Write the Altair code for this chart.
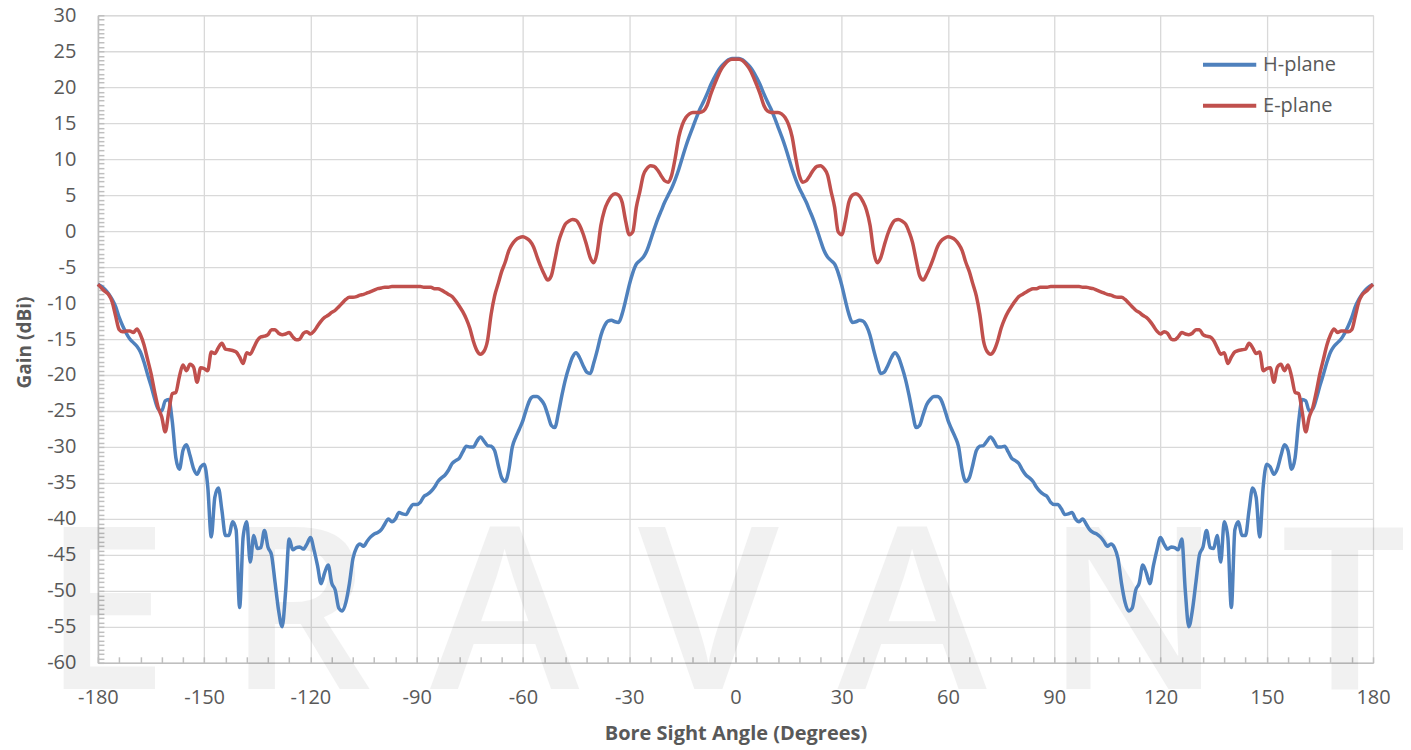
import altair as alt
import pandas as pd

ANGLES = list(range(-180, 181))

H_LEFT = [
    -7.4, -7.7, -8.1, -8.7, -9.5, -10.5, -12.0, -13.2, -14.2, -15.0,
    -15.5, -16.0, -16.8, -18.2, -19.9, -21.5, -23.3, -24.7, -25.0, -23.6,
    -23.4, -26.5, -31.5, -33.1, -30.5, -29.7, -31.2, -33.0, -33.8, -32.8,
    -32.4, -35.5, -42.5, -37.0, -35.7, -38.8, -42.3, -42.3, -40.4, -41.5,
    -52.3, -42.5, -40.4, -46.0, -42.3, -44.1, -44.0, -41.6, -43.9, -45.0,
    -48.8, -52.7, -55.0, -50.0, -42.8, -44.3, -44.0, -43.9, -44.2, -43.5,
    -42.6, -44.3, -46.5, -49.0, -47.5, -46.4, -48.9, -49.9, -52.4, -52.8,
    -51.6, -49.0, -45.5, -44.0, -43.5, -43.8, -43.1, -42.5, -42.1, -41.9,
    -41.5, -40.7, -40.0, -40.4, -40.0, -39.1, -39.3, -39.4, -38.6, -38.0,
    -38.0, -37.7, -36.9, -36.6, -36.2, -35.6, -34.8, -34.3, -33.9, -33.2,
    -32.3, -31.9, -31.6, -30.7, -29.9, -30.0, -30.0, -29.2, -28.6, -29.2,
    -29.8, -29.9, -30.5, -32.5, -34.3, -34.8, -33.2, -30.0, -28.6, -27.5,
    -26.3, -24.7, -23.4, -23.0, -23.0, -23.4, -24.1, -25.5, -27.0, -27.3,
    -25.3, -22.8, -20.6, -18.9, -17.5, -16.9, -17.6, -18.7, -19.6, -19.8,
    -18.3, -16.5, -14.5, -13.2, -12.5, -12.4, -12.6, -12.7, -11.5, -9.6,
    -7.5, -5.8, -4.6, -4.1, -3.6, -2.7, -1.3, 0.2, 1.6, 2.8,
    4.0, 5.0, 6.0, 7.2, 8.6, 10.2, 11.8, 13.2, 14.5, 15.8,
    17.0, 18.0, 19.1, 20.3, 21.3, 22.2, 22.9, 23.4, 23.8, 24.0,
    24.0,
]
H_RIGHT = [
    24.0, 23.8, 23.4, 22.9, 22.2, 21.3, 20.3, 19.1, 18.0, 17.0,
    15.8, 14.5, 13.2, 11.8, 10.2, 8.6, 7.2, 6.0, 5.0, 4.0,
    2.8, 1.6, 0.2, -1.3, -2.7, -3.6, -4.1, -4.6, -5.8, -7.5,
    -9.6, -11.5, -12.7, -12.6, -12.4, -12.5, -13.2, -14.5, -16.5, -18.3,
    -19.8, -19.6, -18.7, -17.6, -16.9, -17.5, -18.9, -20.6, -22.8, -25.3,
    -27.3, -27.0, -25.5, -24.1, -23.4, -23.0, -23.0, -23.4, -24.7, -26.3,
    -27.5, -28.6, -30.0, -33.2, -34.8, -34.3, -32.5, -30.5, -29.9, -29.8,
    -29.2, -28.6, -29.2, -30.0, -30.0, -29.9, -30.7, -31.6, -31.9, -32.3,
    -33.2, -33.9, -34.3, -34.8, -35.6, -36.2, -36.6, -36.9, -37.7, -38.0,
    -38.0, -38.6, -39.4, -39.3, -39.1, -40.0, -40.4, -40.0, -40.7, -41.5,
    -41.9, -42.1, -42.5, -43.1, -43.8, -43.5, -44.0, -45.5, -49.0, -51.6,
    -52.8, -52.4, -49.9, -48.9, -46.4, -47.5, -49.0, -46.5, -44.3, -42.6,
    -43.5, -44.2, -43.9, -44.0, -44.3, -42.8, -50.0, -55.0, -52.7, -48.8,
    -45.0, -43.9, -41.6, -44.0, -44.1, -42.3, -46.0, -40.4, -42.5, -52.3,
    -41.5, -40.4, -42.3, -42.3, -38.8, -35.7, -37.0, -42.5, -35.5, -32.4,
    -32.8, -33.8, -33.0, -31.2, -29.7, -30.5, -33.1, -31.5, -26.5, -23.4,
    -23.6, -25.0, -24.7, -23.3, -21.5, -19.9, -18.2, -16.8, -16.0, -15.5,
    -15.0, -14.2, -13.2, -12.0, -10.5, -9.5, -8.7, -8.1, -7.7, -7.4,
]

E_LEFT = [
    -7.4, -7.9, -8.4, -8.8, -9.8, -11.8, -13.7, -14.0, -13.9, -13.9,
    -14.1, -13.6, -14.4, -15.8, -17.8, -19.8, -22.3, -24.5, -25.8, -27.9,
    -25.1, -22.6, -22.4, -20.2, -18.6, -19.4, -18.5, -18.9, -21.0, -19.0,
    -19.1, -19.4, -16.8, -17.0, -16.2, -15.6, -16.4, -16.5, -16.6, -16.8,
    -17.5, -18.4, -16.9, -17.1, -16.2, -15.2, -14.7, -14.6, -14.4, -13.7,
    -13.7, -14.2, -14.4, -14.3, -14.1, -14.7, -15.1, -15.0, -14.2, -14.0,
    -14.3, -13.9, -13.2, -12.5, -12.0, -11.7, -11.3, -11.0, -10.5, -10.0,
    -9.5, -9.2, -9.2, -9.1, -8.9, -8.8, -8.6, -8.4, -8.2, -8.0,
    -7.9, -7.8, -7.8, -7.7, -7.7, -7.7, -7.7, -7.7, -7.7, -7.7,
    -7.7, -7.7, -7.8, -7.8, -7.8, -8.0, -8.0, -8.2, -8.5, -8.8,
    -9.1, -9.7, -10.4, -11.2, -12.2, -13.5, -15.3, -16.6, -17.1, -16.7,
    -15.2, -11.6, -9.0, -7.3, -5.6, -4.3, -2.7, -1.8, -1.2, -0.9,
    -0.8, -1.0, -1.4, -2.2, -3.6, -4.9, -6.0, -6.8, -6.2, -4.0,
    -1.6, -0.1, 1.0, 1.4, 1.6, 1.5, 0.8, -0.4, -2.0, -3.7,
    -4.4, -2.8, 0.8, 2.9, 4.1, 4.9, 5.2, 5.0, 4.0, 1.4,
    -0.5, -0.1, 3.3, 5.5, 7.8, 8.7, 9.1, 9.0, 8.5, 7.7,
    7.0, 6.8, 7.8, 10.2, 13.1, 14.8, 15.8, 16.3, 16.5, 16.5,
    16.5, 16.7, 17.5, 19.0, 20.3, 21.5, 22.5, 23.2, 23.7, 23.9,
    23.9,
]
E_RIGHT = [
    23.9, 23.7, 23.2, 22.5, 21.5, 20.3, 19.0, 17.5, 16.7, 16.5,
    16.5, 16.5, 16.3, 15.8, 14.8, 13.1, 10.2, 7.8, 6.8, 7.0,
    7.7, 8.5, 9.0, 9.1, 8.7, 7.8, 5.5, 3.3, -0.1, -0.5,
    1.4, 4.0, 5.0, 5.2, 4.9, 4.1, 2.9, 0.8, -2.8, -4.4,
    -3.7, -2.0, -0.4, 0.8, 1.5, 1.6, 1.4, 1.0, -0.1, -1.6,
    -4.0, -6.2, -6.8, -6.0, -4.9, -3.6, -2.2, -1.4, -1.0, -0.8,
    -0.9, -1.2, -1.8, -2.7, -4.3, -5.6, -7.3, -9.0, -11.6, -15.2,
    -16.7, -17.1, -16.6, -15.3, -13.5, -12.2, -11.2, -10.4, -9.7, -9.1,
    -8.8, -8.5, -8.2, -8.0, -8.0, -7.8, -7.8, -7.8, -7.7, -7.7,
    -7.7, -7.7, -7.7, -7.7, -7.7, -7.7, -7.7, -7.8, -7.8, -7.9,
    -8.0, -8.2, -8.4, -8.6, -8.8, -8.9, -9.1, -9.2, -9.2, -9.5,
    -10.0, -10.5, -11.0, -11.3, -11.7, -12.0, -12.5, -13.2, -13.9, -14.3,
    -14.0, -14.2, -15.0, -15.1, -14.7, -14.1, -14.3, -14.4, -14.2, -13.7,
    -13.7, -14.4, -14.6, -14.7, -15.2, -16.2, -17.1, -16.9, -18.4, -17.5,
    -16.8, -16.6, -16.5, -16.4, -15.6, -16.2, -17.0, -16.8, -19.4, -19.1,
    -19.0, -21.0, -18.9, -18.5, -19.4, -18.6, -20.2, -22.4, -22.6, -25.1,
    -27.9, -25.8, -24.5, -22.3, -19.8, -17.8, -15.8, -14.4, -13.6, -14.1,
    -13.9, -13.9, -14.0, -13.7, -11.8, -9.8, -8.8, -8.4, -7.9, -7.4,
]

SERIES = ["H-plane", "E-plane"]
COLORS = ["#4f81bd", "#c0504d"]
X_TICKS = list(range(-180, 181, 30))
Y_TICKS = list(range(-60, 31, 5))
X_MINOR = list(range(-180, 181, 6))
Y_MINOR = [v / 8 * 5 for v in range(-96, 49)]
WATERMARK = ["E R A V A N T"]

H = H_LEFT + H_RIGHT
E = E_LEFT + E_RIGHT
df = pd.concat([
    pd.DataFrame({"angle": ANGLES, "gain": H, "series": SERIES[0]}),
    pd.DataFrame({"angle": ANGLES, "gain": E, "series": SERIES[1]}),
], ignore_index=True)

FONT = "Open Sans"
TXT = "#595959"

xscale = alt.Scale(domain=[-180, 180], nice=False, zero=False)
yscale = alt.Scale(domain=[-60, 30], nice=False, zero=False)

lines = alt.Chart(df).mark_line(strokeWidth=3.5, interpolate="monotone").encode(
    x=alt.X("angle:Q", scale=xscale, axis=alt.Axis(
        orient="bottom",
        values=X_TICKS, grid=True, gridColor="#d9d9d9", gridWidth=1.3,
        domainColor="#bfbfbf", domainWidth=1.6, ticks=False, tickSize=0,
        labelFont=FONT, labelFontSize=20, labelColor=TXT, labelPadding=25,
        labelFlush=False, labelOverlap=False, labelExpr="'' + datum.value",
        title="Bore Sight Angle (Degrees)", titleFont=FONT, titleFontSize=20,
        titleFontWeight="bold", titleColor=TXT, titleY=77, titleBaseline="alphabetic",
    )),
    y=alt.Y("gain:Q", scale=yscale, axis=alt.Axis(
        orient="left",
        values=Y_TICKS, grid=True, gridColor="#d9d9d9", gridWidth=1.3,
        domainColor="#bfbfbf", domainWidth=1.6, ticks=False, tickSize=0,
        labelFont=FONT, labelFontSize=20, labelColor=TXT, labelPadding=22,
        labelFlush=False, labelOverlap=False, labelExpr="'' + datum.value",
        title="Gain (dBi)", titleFont=FONT, titleFontSize=19,
        titleFontWeight="bold", titleColor=TXT, titleX=-73, titleY=327,
        titleAngle=270, titleBaseline="middle", titleAlign="center",
    )),
    color=alt.Color("series:N", sort=SERIES,
                    scale=alt.Scale(domain=SERIES, range=COLORS),
                    legend=alt.Legend(
                        title=None, orient="none", legendX=1110, legendY=27,
                        symbolType="M-1.3,0L1.3,0", symbolSize=1681, symbolStrokeWidth=4,
                        labelFont=FONT, labelFontSize=20, labelColor=TXT,
                        labelOffset=11, rowPadding=8, padding=0,
                    )),
)

minor = alt.Chart(df).mark_point(opacity=0).encode(
    x=alt.X("angle:Q", scale=xscale, axis=alt.Axis(
        orient="bottom", values=X_MINOR, grid=False, domain=False, labels=False,
        ticks=True, tickSize=6, tickColor="#bfbfbf", tickWidth=1.5, offset=-6, title=None,
    )),
    y=alt.Y("gain:Q", scale=yscale, axis=alt.Axis(
        orient="left", values=Y_MINOR, grid=False, domain=False, labels=False,
        ticks=True, tickSize=6, tickColor="#bfbfbf", tickWidth=1.5, offset=-6, title=None,
    )),
)

wm = alt.Chart(pd.DataFrame({"t": WATERMARK})).mark_text(
    font=FONT, fontSize=226, fontWeight=600, color="#000000", opacity=0.05,
    align="center", baseline="alphabetic",
).encode(text="t:N", x=alt.value(628), y=alt.value(674))

chart = alt.layer(wm, minor, lines).resolve_axis(
    x="independent", y="independent"
).properties(
    width=1276, height=648,
    autosize=alt.AutoSizeParams(type="none"),
    padding={"left": 90, "top": 7, "right": 30, "bottom": 85},
).configure_view(stroke=None).configure(background="white")

chart.save("out.html", embed_options={"renderer": "svg", "actions": False})
